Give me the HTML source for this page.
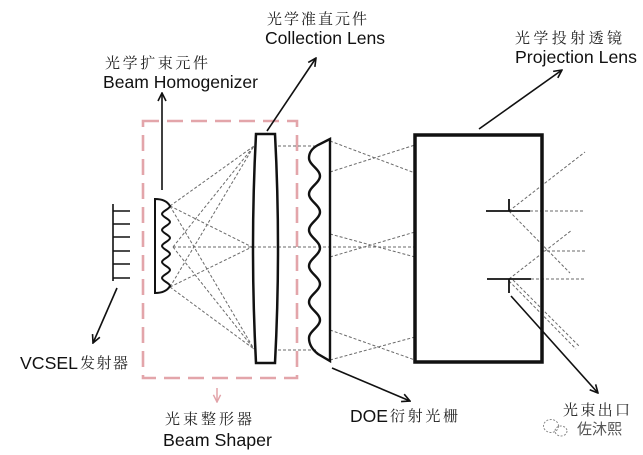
<!DOCTYPE html>
<html>
<head>
<meta charset="utf-8">
<style>
html,body{margin:0;padding:0;background:#fff;}
svg{display:block;}
.en{font-family:"Liberation Sans",Arial,sans-serif;font-size:17.5px;fill:#111;}
.cn{font-family:"Liberation Serif","Noto Serif CJK SC",serif;font-size:15px;fill:#222;}
.d{stroke:#6a6a6a;stroke-width:1;stroke-dasharray:3 2;fill:none;}
.s{stroke:#111;fill:none;}
</style>
</head>
<body>
<svg width="643" height="455" viewBox="0 0 643 455" xmlns="http://www.w3.org/2000/svg">
<defs>
<marker id="a" viewBox="0 0 10 10" refX="9" refY="5" markerWidth="10" markerHeight="10" markerUnits="userSpaceOnUse" orient="auto">
<path d="M1,1 L9,5 L1,9" fill="none" stroke="#111" stroke-width="1.6"/>
</marker>
<marker id="p" viewBox="0 0 10 10" refX="9" refY="5" markerWidth="9" markerHeight="9" markerUnits="userSpaceOnUse" orient="auto">
<path d="M1,1 L9,5 L1,9" fill="none" stroke="#e2a3a9" stroke-width="1.6"/>
</marker>
</defs>
<rect width="643" height="455" fill="#fff"/>

<!-- pink dashed beam shaper box -->
<rect x="143" y="121" width="154" height="257" fill="none" stroke="#e3a5aa" stroke-width="2.6" stroke-dasharray="16 8"/>

<!-- dashed rays: homogenizer -> collection lens -->
<g class="d">
<line x1="170" y1="206" x2="254" y2="146"/>
<line x1="170" y1="206" x2="252" y2="247"/>
<line x1="170" y1="206" x2="254" y2="349"/>
<line x1="173" y1="247" x2="254" y2="146"/>
<line x1="173" y1="247" x2="254" y2="349"/>
<line x1="170" y1="287" x2="254" y2="146"/>
<line x1="170" y1="287" x2="252" y2="247"/>
<line x1="170" y1="287" x2="254" y2="349"/>
<line x1="173" y1="247" x2="415" y2="247"/>
<!-- lens -> DOE -->
<line x1="278" y1="146" x2="318" y2="146"/>
<line x1="278" y1="350" x2="316" y2="350"/>
<!-- DOE -> projection -->
<line x1="330" y1="141" x2="415" y2="173"/>
<line x1="330" y1="172" x2="415" y2="145"/>
<line x1="330" y1="234" x2="415" y2="257"/>
<line x1="330" y1="257" x2="415" y2="232"/>
<line x1="330" y1="330" x2="415" y2="360"/>
<line x1="330" y1="360" x2="415" y2="337"/>
<!-- exit rays -->
<line x1="509" y1="211" x2="585" y2="152"/>
<line x1="530" y1="211" x2="585" y2="211"/>
<line x1="509" y1="211" x2="570" y2="273"/>
<line x1="509" y1="279" x2="572" y2="230"/>
<line x1="531" y1="279" x2="585" y2="279"/>
<line x1="509" y1="281" x2="576" y2="349"/>
<line x1="513" y1="280" x2="579" y2="346"/>
<line x1="542" y1="251" x2="585" y2="251"/>
</g>

<!-- VCSEL -->
<g class="s" stroke-width="1.6">
<line x1="113" y1="204" x2="113" y2="281"/>
<line x1="113" y1="211" x2="130" y2="211"/>
<line x1="113" y1="224" x2="130" y2="224"/>
<line x1="113" y1="237" x2="130" y2="237"/>
<line x1="113" y1="251" x2="130" y2="251"/>
<line x1="113" y1="264" x2="130" y2="264"/>
<line x1="113" y1="278" x2="130" y2="278"/>
</g>

<!-- homogenizer -->
<path class="s" stroke-width="2" fill="#fff" fill-opacity="0" d="M155,199 Q166,199 170,206 C170,208.9 162,211.1 162,214 S170,219.1 170,222 S162,227.1 162,230 S170,235.1 170,238 S162,243.1 162,246 S170,251.1 170,254 S162,259.1 162,262 S170,267.1 170,270 S162,275.1 162,278 S170,283.1 170,286 Q166,293 155,293 Z"/>

<!-- collection lens -->
<path class="s" stroke-width="2.5" d="M256,134 L275,134 Q281,248 275,363 L256,363 Q250,248 256,134 Z"/>

<!-- DOE -->
<path class="s" stroke-width="2.4" d="M330,139 L318,145 Q309,150 309,158 C309,164.6 320,169.4 320,176 S309,187.4 309,194 S320,205.4 320,212 S309,223.4 309,230 S320,241.4 320,248 S309,259.4 309,266 S320,277.4 320,284 S309,295.4 309,302 S320,313.4 320,320 S309,331.4 309,338 Q309,347 318,354 L330,361 Z"/>

<!-- projection lens box -->
<rect x="415" y="135" width="127" height="227" fill="none" stroke="#111" stroke-width="3.5"/>

<!-- apertures -->
<g class="s" stroke-width="1.8">
<line x1="486" y1="211" x2="530" y2="211"/>
<line x1="509" y1="199" x2="509" y2="211"/>
<line x1="487" y1="279" x2="531" y2="279"/>
<line x1="509" y1="279" x2="509" y2="293"/>
</g>

<!-- arrows -->
<g class="s" stroke-width="1.6">
<line x1="162" y1="190" x2="162" y2="93" marker-end="url(#a)"/>
<line x1="267" y1="131" x2="316" y2="58" marker-end="url(#a)"/>
<line x1="479" y1="129" x2="562" y2="70" marker-end="url(#a)"/>
<line x1="117" y1="288" x2="93" y2="343" marker-end="url(#a)"/>
<line x1="332" y1="368" x2="410" y2="401" marker-end="url(#a)"/>
<line x1="511" y1="296" x2="598" y2="393" marker-end="url(#a)"/>
</g>
<line x1="217" y1="388" x2="217" y2="402" stroke="#e2a3a9" stroke-width="1.5" marker-end="url(#p)"/>

<!-- labels -->
<text class="cn" x="105" y="68" textLength="103" lengthAdjust="spacing">光学扩束元件</text>
<text class="en" x="103" y="88" textLength="155" lengthAdjust="spacingAndGlyphs">Beam Homogenizer</text>

<text class="cn" x="267" y="24" textLength="100" lengthAdjust="spacing">光学准直元件</text>
<text class="en" x="265" y="44" textLength="120" lengthAdjust="spacingAndGlyphs">Collection Lens</text>

<text class="cn" x="515" y="43" textLength="107" lengthAdjust="spacing">光学投射透镜</text>
<text class="en" x="515" y="63" textLength="122" lengthAdjust="spacingAndGlyphs">Projection Lens</text>

<text class="en" x="20" y="369" textLength="58" lengthAdjust="spacingAndGlyphs">VCSEL</text>
<text class="cn" x="80" y="368" textLength="48" lengthAdjust="spacing">发射器</text>

<text class="cn" x="165" y="424" textLength="87" lengthAdjust="spacing">光束整形器</text>
<text class="en" x="163" y="446" textLength="109" lengthAdjust="spacingAndGlyphs">Beam Shaper</text>

<text class="en" x="350" y="422" textLength="38" lengthAdjust="spacingAndGlyphs">DOE</text>
<text class="cn" x="390" y="421" textLength="68" lengthAdjust="spacing">衍射光栅</text>

<text class="cn" x="563" y="415" textLength="67" lengthAdjust="spacing">光束出口</text>

<!-- watermark -->
<g fill="none" stroke="#888" stroke-width="1" stroke-dasharray="2 1.5">
<ellipse cx="551" cy="426" rx="7.5" ry="6.5"/>
<ellipse cx="561" cy="431" rx="6" ry="5"/>
</g>
<text x="577" y="434" font-family="'Liberation Sans','Noto Sans CJK SC',sans-serif" font-size="15" fill="#555" textLength="45" lengthAdjust="spacing">佐沐熙</text>
</svg>
</body>
</html>
